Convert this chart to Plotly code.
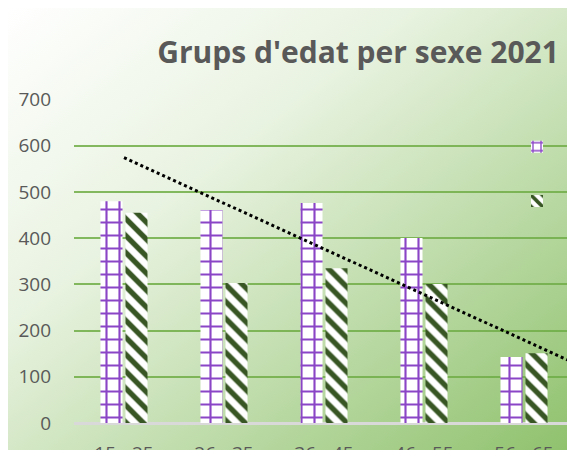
import base64
import plotly.graph_objects as go

# age groups and counts per sex
categories = ["15 - 25", "26 - 35", "36 - 45", "46 - 55", "56 - 65"]
homes = [480, 461, 476, 400, 143]
dones = [455, 303, 335, 301, 151]
# dotted trend line (last point = right edge)
trend_x = [0, 1, 2, 3, 4, 4.5]
trend_y = [574, 475, 376, 277, 178, 130]

# the page puts the chart 8px in from the top-left corner
W, H = 575, 450
L, R, T, B = 66, 9, 91, 35
pw, ph = W - L - R, H - T - B

# diagonal white -> green background for the whole chart
svg = (
    '<svg xmlns="http://www.w3.org/2000/svg" width="575" height="450">'
    '<defs><linearGradient id="g" x1="0" y1="0" x2="1" y2="1">'
    '<stop offset="0" stop-color="#ffffff"/>'
    '<stop offset="0.35" stop-color="#e9f3e1"/>'
    '<stop offset="1" stop-color="#8cc069"/>'
    '</linearGradient></defs>'
    '<rect width="575" height="450" fill="url(#g)"/></svg>'
)
bg = "data:image/svg+xml;base64," + base64.b64encode(svg.encode()).decode()

x_idx = list(range(len(categories)))

fig = go.Figure()
fig.add_trace(go.Bar(
    x=x_idx, y=homes, name="Homes", legendgroup="h",
    marker=dict(color="white", line=dict(width=0),
                pattern=dict(shape="+", fgcolor="#8a44c6", bgcolor="white",
                             size=13, solidity=0.3, fillmode="replace")),
))
fig.add_trace(go.Bar(
    x=x_idx, y=dones, name="Dones", legendgroup="d",
    marker=dict(color="white", line=dict(width=0),
                pattern=dict(shape="\\", fgcolor="#375623", bgcolor="white",
                             size=12, solidity=0.45, fillmode="replace")),
))
fig.add_trace(go.Scatter(
    x=trend_x, y=trend_y, mode="lines", showlegend=False,
    line=dict(color="black", width=3, dash="dot"),
))

fig.update_layout(
    width=W, height=H,
    margin=dict(l=L, r=R, t=T, b=B, autoexpand=False),
    paper_bgcolor="rgba(0,0,0,0)",
    plot_bgcolor="rgba(0,0,0,0)",
    font=dict(family="Open Sans", color="#595959"),
    title=dict(text="<b>Grups d'edat per sexe 2021</b>", x=0.958, xanchor="right",
               y=0.902, yanchor="middle", font=dict(size=30, color="#595959")),
    barmode="group", bargap=0.5, bargroupgap=0.12,
    showlegend=True,
    legend=dict(x=0.836, y=0.909, xanchor="left", yanchor="top",
                bgcolor="rgba(0,0,0,0)", itemwidth=80, tracegroupgap=28,
                font=dict(size=18, color="#595959")),
    images=[dict(source=bg, xref="paper", yref="paper",
                 x=-L / pw, y=1 + T / ph, sizex=W / pw, sizey=H / ph,
                 xanchor="left", yanchor="top", sizing="stretch", layer="below")],
)
fig.update_xaxes(range=[-0.5, 4.5], tickvals=x_idx, ticktext=categories,
                 showgrid=False, zeroline=False, ticks="", ticklabelstandoff=17,
                 tickfont=dict(size=19, color="#595959"))
fig.update_yaxes(range=[0, 701], tickvals=[0, 100, 200, 300, 400, 500, 600, 700],
                 showgrid=True,
                 gridcolor="rgba(112,173,71,0.85)", gridwidth=2,
                 zeroline=True, zerolinecolor="#d9d9d9", zerolinewidth=3,
                 ticks="", ticklabelstandoff=22,
                 tickfont=dict(size=19, color="#595959"))

fig.write_html("out.html")
